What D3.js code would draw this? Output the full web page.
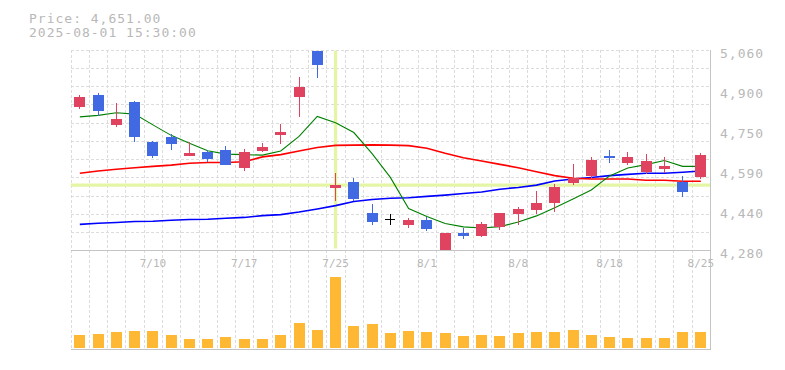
<!DOCTYPE html>
<html>
<head>
<meta charset="utf-8">
<script src="https://cdn.jsdelivr.net/npm/d3@7"></script>
<style>
html,body{margin:0;padding:0;background:#fff;}
svg{display:block;}
text{font-family:"DejaVu Sans Mono",monospace;}
</style>
</head>
<body>
<svg id="chart" width="785" height="370"></svg>
<script>
// ---- data ----
const dates = ["7/4","7/7","7/8","7/9","7/10","7/11","7/14","7/15","7/16","7/17","7/18","7/22","7/23","7/24","7/25",
  "7/28","7/29","7/30","7/31","8/1","8/4","8/5","8/6","8/7","8/8","8/12","8/13","8/14","8/15","8/18",
  "8/19","8/20","8/21","8/22","8/25"];
const openV  = [4840,4887,4771,4859,4703,4723,4650,4664,4671,4603,4668,4732,4879,5058,4525,4547,4426,4403,4380,4400,4278,4348,4338,4372,4424,4439,4464,4544,4572,4649,4622,4587,4599,4548,4568];
const highV  = [4887,4893,4854,4863,4707,4733,4704,4671,4686,4675,4699,4773,4957,5060,4582,4562,4460,4421,4408,4411,4348,4369,4390,4426,4451,4513,4539,4617,4645,4672,4664,4656,4644,4569,4660];
const lowV   = [4833,4803,4763,4704,4642,4673,4650,4624,4615,4591,4663,4695,4801,4954,4473,4473,4381,4380,4369,4357,4276,4324,4333,4359,4378,4424,4431,4536,4558,4622,4615,4580,4582,4490,4560];
const closeV = [4879,4824,4793,4724,4650,4697,4660,4637,4615,4663,4684,4742,4918,5004,4535,4482,4392,4403,4400,4365,4348,4338,4383,4426,4443,4465,4529,4563,4633,4641,4645,4629,4610,4509,4651];
const ma5  = [4801,4807,4817,4812,4770,4729,4698,4669,4656,4654,4652,4668,4725,4803,4778,4740,4658,4565,4444,4413,4385,4372,4368,4373,4391,4415,4447,4481,4516,4571,4602,4615,4631,4608,4608];
const ma25 = [4581,4590,4597,4603,4608,4613,4620,4623,4623,4626,4645,4654,4668,4682,4690,4691,4692,4691,4689,4679,4659,4642,4629,4616,4603,4587,4572,4562,4559,4559,4559,4554,4554,4550,4550];
const ma75 = [4382,4386,4389,4393,4394,4398,4401,4402,4406,4409,4416,4420,4430,4442,4455,4471,4479,4484,4486,4491,4496,4502,4508,4519,4526,4535,4551,4559,4565,4572,4577,4581,4581,4585,4590];
const volume = [130,140,160,170,170,130,90,90,110,90,90,130,250,180,710,220,240,150,170,160,150,120,130,120,150,160,160,180,130,110,100,100,100,160,160];
const xTickDates = ["7/10","7/17","7/25","8/1","8/8","8/18","8/25"];
const yTickLabels = ["4,280","4,440","4,590","4,750","4,900","5,060"];
const priceDomain = [4280, 5060];
const volumeDomain = [0, 800];
const crossIndex = 14;
const headerLines = ["Price: 4,651.00", "2025-08-01 15:30:00"];

// ---- layout ----
const L = 70.7, R = 710, PT = 50.5, PB = 250.5, VB = 348, VTop = 268, BOTTOM = 349.5;
const svg = d3.select("#chart");
const x = d3.scaleBand().domain(dates).range([L, R]).padding(0);
const bw = x.bandwidth();
const cx = d => x(d) + bw / 2;
const y = d3.scaleLinear().domain(priceDomain).range([PB, PT]);
const yv = d3.scaleLinear().domain(volumeDomain).range([VB, VTop]);

const gridColor = "#dcdcdc", axisColor = "#c4c4c4", textColor = "#b8b8b8";
const upColor = "#e0435f", downColor = "#4169e1", flatColor = "#000";

svg.append("defs").append("clipPath").attr("id","pclip")
  .append("rect").attr("x", L).attr("y", PT - 1).attr("width", R - L).attr("height", PB - PT + 1);

// grid: vertical at band boundaries
const grid = svg.append("g").attr("stroke", gridColor).attr("stroke-dasharray","3,2").attr("shape-rendering","crispEdges");
grid.selectAll("line.v").data(dates).join("line")
  .attr("x1", d => Math.round(x(d)) + 0.5).attr("x2", d => Math.round(x(d)) + 0.5)
  .attr("y1", PT - 1).attr("y2", BOTTOM);
// horizontal grid from bottom upwards, same step as bands
const hLines = d3.range(1, Math.floor((PB - PT) / bw) + 2).map(k => PB - k * bw);
grid.selectAll("line.h").data(hLines).join("line")
  .attr("x1", L).attr("x2", R)
  .attr("y1", d => Math.round(d) + 0.5).attr("y2", d => Math.round(d) + 0.5);

// crosshair
const cross = svg.append("g").attr("stroke", "#e5f5a6").attr("stroke-width", 3.3);
cross.append("line").attr("x1", cx(dates[crossIndex])).attr("x2", cx(dates[crossIndex])).attr("y1", PT).attr("y2", PB - 2);
cross.append("line").attr("x1", L).attr("x2", R).attr("y1", y(closeV[crossIndex])).attr("y2", y(closeV[crossIndex]));

// moving averages
const lineGen = arr => d3.line().x((d, i) => cx(dates[i])).y(d => y(d))(arr);
const maG = svg.append("g").attr("fill","none").attr("clip-path","url(#pclip)");
maG.append("path").attr("d", lineGen(ma75)).attr("stroke","#0000ff").attr("stroke-width",1.6);
maG.append("path").attr("d", lineGen(ma25)).attr("stroke","#ff0000").attr("stroke-width",1.6);
maG.append("path").attr("d", lineGen(ma5)).attr("stroke","#008000").attr("stroke-width",1.1);

// candles
const candles = dates.map((d, i) => ({d, o: openV[i], h: highV[i], l: lowV[i], c: closeV[i]}));
const colorOf = k => k.c > k.o ? upColor : (k.c < k.o ? downColor : flatColor);
const cg = svg.append("g").attr("clip-path","url(#pclip)").attr("shape-rendering","crispEdges");
const bodyW = 11;
cg.selectAll("line.wick").data(candles).join("line")
  .attr("x1", k => Math.floor(cx(k.d)) + 0.5).attr("x2", k => Math.floor(cx(k.d)) + 0.5)
  .attr("y1", k => y(k.h)).attr("y2", k => y(k.l))
  .attr("stroke", colorOf).attr("stroke-width", 1);
cg.selectAll("rect.body").data(candles).join("rect")
  .attr("x", k => Math.floor(cx(k.d)) + 0.5 - bodyW / 2)
  .attr("width", k => k.c === k.o ? bodyW - 1 : bodyW)
  .attr("y", k => y(Math.max(k.o, k.c)))
  .attr("height", k => Math.max(1, Math.abs(y(k.o) - y(k.c))))
  .attr("fill", colorOf);

// volume
svg.append("g").attr("shape-rendering","crispEdges").selectAll("rect").data(volume).join("rect")
  .attr("x", (v, i) => Math.floor(cx(dates[i])) + 0.5 - bodyW / 2)
  .attr("width", bodyW)
  .attr("y", v => yv(v)).attr("height", v => VB - yv(v))
  .attr("fill", "#ffb833");

// borders
const border = svg.append("g").attr("stroke", axisColor).attr("shape-rendering","crispEdges");
border.append("line").attr("x1", L).attr("x2", R + 1).attr("y1", PB).attr("y2", PB);
border.append("line").attr("x1", L).attr("x2", R + 1).attr("y1", BOTTOM).attr("y2", BOTTOM);
border.append("line").attr("x1", R + 0.5).attr("x2", R + 0.5).attr("y1", PT - 0.5).attr("y2", BOTTOM);

// y axis (right)
const yTickVals = d3.range(yTickLabels.length).map(i => priceDomain[0] + i * (priceDomain[1] - priceDomain[0]) / (yTickLabels.length - 1));
const yAxis = d3.axisRight(y).tickValues(yTickVals).tickSize(0).tickPadding(10)
  .tickFormat((d, i) => yTickLabels[i]);
const ya = svg.append("g").attr("transform", `translate(${R},0)`).call(yAxis);
ya.select(".domain").remove();
ya.selectAll("text").attr("fill", textColor).attr("font-size", 13).attr("letter-spacing", "1px")
  .attr("font-family", "DejaVu Sans Mono").attr("dy", "0.55em");

// x axis
const xAxis = d3.axisBottom(x).tickValues(xTickDates).tickSize(0).tickPadding(0);
const xa = svg.append("g").attr("transform", `translate(0,${PB})`).call(xAxis);
xa.select(".domain").remove();
xa.selectAll("text").attr("fill", textColor).attr("font-size", 11).attr("font-family", "DejaVu Sans Mono")
  .attr("y", 16).attr("dy", 0);

// header
svg.append("g").selectAll("text").data(headerLines).join("text")
  .attr("x", 29).attr("y", (d, i) => 22.7 + i * 14)
  .attr("fill", textColor).attr("font-size", 13).attr("letter-spacing", "1px")
  .text(d => d);
</script>
</body>
</html>
